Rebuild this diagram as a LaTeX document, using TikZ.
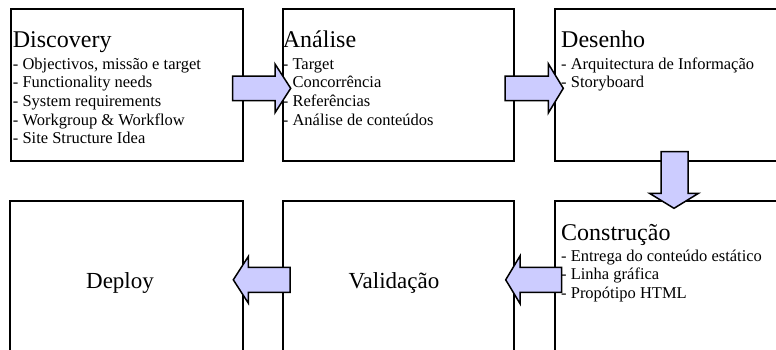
\documentclass[tikz,border=0pt]{standalone}
\usepackage{fontspec}
\setmainfont{Liberation Serif}
\definecolor{arrowfill}{RGB}{204,204,255}
\tikzset{
  box/.style={draw=black, line width=1.5pt, fill=white, anchor=north west, inner sep=0pt},
  ttl/.style={anchor=base west, inner sep=0pt, font=\fontsize{24}{28}\selectfont},
  itm/.style={anchor=base west, inner sep=0pt, font=\fontsize{16.5}{18.7}\selectfont},
  lbl/.style={anchor=base, inner sep=0pt, font=\fontsize{23}{27}\selectfont},
  barrow/.style={draw=black, line width=1.5pt, fill=arrowfill, line join=miter}
}
\begin{document}
\begin{tikzpicture}[x=1pt,y=-1pt]
\useasboundingbox (0,0) rectangle (776,349);
\clip (0,0) rectangle (776,349);
% boxes
\node[box, minimum width=232pt, minimum height=152pt] (disc) at (10,8) {};
\node[box, minimum width=231pt, minimum height=152pt] (anal) at (282,8) {};
\node[box, minimum width=240pt, minimum height=152pt] (dese) at (554,8) {};
\node[box, minimum width=233pt, minimum height=170pt] (depl) at (9,200) {};
\node[box, minimum width=231pt, minimum height=170pt] (vali) at (282,200) {};
\node[box, minimum width=240pt, minimum height=170pt] (cons) at (554,200) {};
% Discovery
\node[ttl] (t1) at (12.7,47.7) {Discovery};
\node[itm] (d1) at (12.7,69) {- Objectivos, missão e target};
\node[itm] (d2) at (12.7,87.7) {- Functionality needs};
\node[itm] (d3) at (12.7,106.3) {- System requirements};
\node[itm] (d4) at (12.7,125) {- Workgroup \& Workflow};
\node[itm] (d5) at (12.7,143.7) {- Site Structure Idea};
% Analise
\node[ttl] (t2) at (282.7,47.7) {Análise};
\node[itm] (a1) at (282.7,69) {- Target};
\node[itm] (a2) at (282.7,87.7) {- Concorrência};
\node[itm] (a3) at (282.7,106.3) {- Referências};
\node[itm] (a4) at (282.7,125) {- Análise de conteúdos};
% Desenho
\node[ttl] (t3) at (561,47.7) {Desenho};
\node[itm] (e1) at (561,69) {- Arquitectura de Informação};
\node[itm] (e2) at (561,87.7) {- Storyboard};
% Construcao
\node[ttl] (t4) at (561,240) {Construção};
\node[itm] (c1) at (561,261) {- Entrega do conteúdo estático};
\node[itm] (c2) at (561,279.7) {- Linha gráfica};
\node[itm] (c3) at (561,298.3) {- Propótipo HTML};
% centre labels
\node[lbl] (l1) at (120,288.3) {Deploy};
\node[lbl] (l2) at (394,288.3) {Validação};
% block arrows
\draw[barrow] (232.7,76) -- (275,76) -- (275,64) -- (290.7,88.3) -- (275,112.7) -- (275,100.7) -- (232.7,100.7) -- cycle;
\draw[barrow] (505,76) -- (548.3,76) -- (548.3,63.7) -- (563.3,88.3) -- (548.3,113) -- (548.3,100.7) -- (505,100.7) -- cycle;
\draw[barrow] (661,151.7) -- (688,151.7) -- (688,193.3) -- (698.5,193.3) -- (674,208.3) -- (649.5,193.3) -- (661,193.3) -- cycle;
\draw[barrow] (561.7,267.3) -- (520,267.3) -- (520,256) -- (505.7,279.8) -- (520,303.6) -- (520,292.3) -- (561.7,292.3) -- cycle;
\draw[barrow] (290,267.3) -- (248.3,267.3) -- (248.3,256.5) -- (233.3,279.8) -- (248.3,303.1) -- (248.3,292.3) -- (290,292.3) -- cycle;
\end{tikzpicture}
\end{document}
